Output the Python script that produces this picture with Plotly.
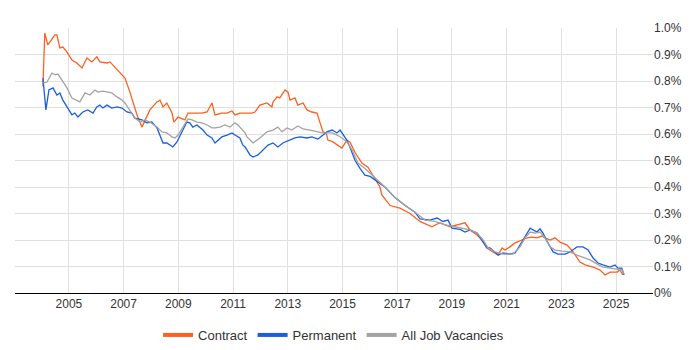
import plotly.graph_objects as go

# Decimal-year dates and values (% of vacancies)
contract_dates = [2004.05, 2004.12, 2004.23, 2004.49, 2004.56, 2004.67, 2004.78, 2004.93, 2005.11, 2005.29,
                  2005.48, 2005.66, 2005.84, 2006.02, 2006.13, 2006.39, 2006.50, 2006.68, 2006.86, 2007.05,
                  2007.23, 2007.34, 2007.49, 2007.67, 2007.96, 2008.22, 2008.33, 2008.44, 2008.58, 2008.77,
                  2008.84, 2008.99, 2009.24, 2009.35, 2009.61, 2009.86, 2010.05, 2010.16, 2010.23, 2010.34,
                  2010.59, 2010.78, 2010.96, 2011.07, 2011.25, 2011.44, 2011.69, 2011.80, 2011.98, 2012.24,
                  2012.42, 2012.46, 2012.61, 2012.71, 2012.90, 2013.01, 2013.08, 2013.26, 2013.37, 2013.56,
                  2013.70, 2013.88, 2014.07, 2014.18, 2014.29, 2014.40, 2014.47, 2014.65, 2014.84, 2014.98,
                  2015.16, 2015.27, 2015.46, 2015.71, 2015.93, 2016.19, 2016.37, 2016.44, 2016.74, 2017.10,
                  2017.47, 2017.83, 2018.27, 2018.56, 2018.93, 2019.30, 2019.48, 2019.66, 2019.92, 2020.10,
                  2020.28, 2020.50, 2020.69, 2020.83, 2020.94, 2021.12, 2021.31, 2021.56, 2021.75, 2021.93,
                  2022.11, 2022.29, 2022.40, 2022.59, 2022.77, 2022.95, 2023.21, 2023.43, 2023.68, 2023.87,
                  2024.16, 2024.41, 2024.60, 2024.78, 2025.04, 2025.14, 2025.25]
contract_vals = [0.78, 0.981, 0.936, 0.974, 0.974, 0.925, 0.928, 0.909, 0.879, 0.868,
                 0.849, 0.887, 0.872, 0.891, 0.872, 0.868, 0.872, 0.853, 0.834, 0.811,
                 0.758, 0.721, 0.672, 0.626, 0.691, 0.721, 0.728, 0.702, 0.717, 0.679,
                 0.645, 0.664, 0.653, 0.679, 0.679, 0.679, 0.683, 0.702, 0.717, 0.672,
                 0.679, 0.679, 0.687, 0.672, 0.679, 0.679, 0.679, 0.683, 0.709, 0.717,
                 0.702, 0.721, 0.740, 0.736, 0.766, 0.758, 0.728, 0.736, 0.709, 0.717,
                 0.691, 0.683, 0.679, 0.642, 0.608, 0.604, 0.577, 0.570, 0.558, 0.547,
                 0.577, 0.570, 0.53, 0.49, 0.475, 0.43, 0.40, 0.37, 0.33, 0.32,
                 0.30, 0.27, 0.25, 0.265, 0.25, 0.26, 0.265, 0.238, 0.219, 0.200,
                 0.170, 0.155, 0.143, 0.170, 0.162, 0.174, 0.189, 0.200, 0.208, 0.211,
                 0.208, 0.215, 0.208, 0.200, 0.208, 0.192, 0.181, 0.155, 0.117, 0.106,
                 0.098, 0.087, 0.068, 0.079, 0.079, 0.087, 0.068]

permanent_dates = [2004.05, 2004.16, 2004.27, 2004.42, 2004.56, 2004.67, 2004.78, 2004.93, 2005.11, 2005.22,
                   2005.33, 2005.51, 2005.69, 2005.88, 2006.02, 2006.13, 2006.24, 2006.39, 2006.57, 2006.76,
                   2006.94, 2007.12, 2007.30, 2007.41, 2007.67, 2007.85, 2008.03, 2008.22, 2008.33, 2008.44,
                   2008.58, 2008.69, 2008.80, 2008.95, 2009.13, 2009.31, 2009.42, 2009.53, 2009.68, 2009.79,
                   2009.90, 2010.05, 2010.23, 2010.34, 2010.45, 2010.59, 2010.78, 2010.96, 2011.07, 2011.25,
                   2011.36, 2011.44, 2011.62, 2011.73, 2011.91, 2012.09, 2012.28, 2012.46, 2012.64, 2012.82,
                   2013.08, 2013.26, 2013.45, 2013.70, 2013.88, 2014.10, 2014.29, 2014.43, 2014.62, 2014.80,
                   2014.91, 2015.02, 2015.16, 2015.27, 2015.46, 2015.64, 2015.82, 2016.01, 2016.30, 2016.55,
                   2016.92, 2017.29, 2017.65, 2017.83, 2018.20, 2018.46, 2018.67, 2018.86, 2019.00, 2019.30,
                   2019.48, 2019.66, 2019.92, 2020.14, 2020.28, 2020.39, 2020.58, 2020.69, 2020.87, 2021.12,
                   2021.31, 2021.49, 2021.67, 2021.86, 2021.97, 2022.11, 2022.22, 2022.33, 2022.51, 2022.70,
                   2022.88, 2023.14, 2023.32, 2023.57, 2023.79, 2023.98, 2024.16, 2024.34, 2024.52, 2024.78,
                   2024.96, 2025.07, 2025.21, 2025.29]
permanent_vals = [0.811, 0.691, 0.766, 0.774, 0.747, 0.755, 0.728, 0.702, 0.672, 0.679,
                  0.664, 0.683, 0.691, 0.679, 0.702, 0.709, 0.698, 0.709, 0.698, 0.702,
                  0.698, 0.683, 0.679, 0.660, 0.653, 0.642, 0.645, 0.623, 0.596, 0.566,
                  0.566, 0.558, 0.551, 0.570, 0.608, 0.645, 0.642, 0.626, 0.634, 0.626,
                  0.615, 0.596, 0.585, 0.566, 0.577, 0.589, 0.596, 0.604, 0.596, 0.585,
                  0.558, 0.551, 0.521, 0.513, 0.521, 0.540, 0.558, 0.566, 0.551, 0.566,
                  0.577, 0.585, 0.589, 0.585, 0.589, 0.581, 0.596, 0.608, 0.615, 0.604,
                  0.615, 0.596, 0.577, 0.551, 0.50, 0.47, 0.445, 0.44, 0.42, 0.40,
                  0.36, 0.33, 0.305, 0.28, 0.275, 0.283, 0.27, 0.275, 0.245, 0.24,
                  0.23, 0.238, 0.226, 0.192, 0.170, 0.170, 0.155, 0.143, 0.151, 0.147,
                  0.151, 0.181, 0.211, 0.245, 0.238, 0.230, 0.242, 0.226, 0.189, 0.155,
                  0.147, 0.147, 0.155, 0.174, 0.174, 0.162, 0.132, 0.113, 0.106, 0.098,
                  0.106, 0.094, 0.094, 0.068]

all_dates = [2004.05, 2004.20, 2004.38, 2004.49, 2004.60, 2004.74, 2004.93, 2005.11, 2005.29, 2005.40,
             2005.59, 2005.77, 2005.95, 2006.06, 2006.24, 2006.39, 2006.57, 2006.76, 2006.94, 2007.05,
             2007.16, 2007.34, 2007.41, 2007.60, 2007.78, 2007.96, 2008.22, 2008.40, 2008.58, 2008.77,
             2008.88, 2008.99, 2009.17, 2009.35, 2009.50, 2009.68, 2009.86, 2010.05, 2010.23, 2010.34,
             2010.52, 2010.70, 2010.89, 2011.07, 2011.18, 2011.33, 2011.44, 2011.51, 2011.73, 2011.98,
             2012.24, 2012.46, 2012.64, 2012.79, 2012.97, 2013.15, 2013.37, 2013.56, 2013.81, 2013.99,
             2014.25, 2014.43, 2014.62, 2014.80, 2014.98, 2015.16, 2015.35, 2015.57, 2015.82, 2016.19,
             2016.55, 2016.92, 2017.29, 2017.65, 2018.02, 2018.38, 2018.75, 2019.11, 2019.48, 2019.66,
             2019.92, 2020.14, 2020.32, 2020.58, 2020.87, 2021.23, 2021.49, 2021.67, 2021.86, 2022.04,
             2022.22, 2022.40, 2022.59, 2022.77, 2023.03, 2023.32, 2023.57, 2023.79, 2024.05, 2024.31,
             2024.52, 2024.78, 2025.04, 2025.21, 2025.29]
all_vals = [0.792, 0.796, 0.830, 0.823, 0.826, 0.804, 0.774, 0.736, 0.728, 0.721,
            0.755, 0.747, 0.766, 0.758, 0.762, 0.758, 0.755, 0.740, 0.728, 0.717,
            0.698, 0.672, 0.660, 0.645, 0.653, 0.645, 0.626, 0.608, 0.604, 0.589,
            0.585, 0.596, 0.626, 0.657, 0.653, 0.645, 0.642, 0.634, 0.623, 0.623,
            0.626, 0.634, 0.626, 0.642, 0.634, 0.615, 0.604, 0.589, 0.566, 0.585,
            0.608, 0.615, 0.626, 0.608, 0.623, 0.615, 0.630, 0.619, 0.615, 0.611,
            0.604, 0.604, 0.604, 0.596, 0.585, 0.570, 0.54, 0.49, 0.47, 0.435,
            0.40, 0.36, 0.33, 0.305, 0.275, 0.27, 0.257, 0.25, 0.24, 0.238,
            0.226, 0.200, 0.170, 0.155, 0.147, 0.147, 0.174, 0.208, 0.230, 0.226,
            0.230, 0.208, 0.174, 0.162, 0.158, 0.155, 0.143, 0.136, 0.125, 0.109,
            0.098, 0.094, 0.091, 0.087, 0.072]

series_names = ["Contract", "Permanent", "All Job Vacancies"]
series_colors = ["#ff5f1f", "#1a5fdc", "#a3a3a3"]

x_tick_vals = [2005, 2007, 2009, 2011, 2013, 2015, 2017, 2019, 2021, 2023, 2025]
x_tick_text = [str(v) for v in x_tick_vals]
y_tick_vals = [0, 0.1, 0.2, 0.3, 0.4, 0.5, 0.6, 0.7, 0.8, 0.9, 1.0]
y_tick_text = ["0%", "0.1%", "0.2%", "0.3%", "0.4%", "0.5%", "0.6%", "0.7%", "0.8%", "0.9%", "1.0%"]

fig = go.Figure()
data = [(contract_dates, contract_vals), (permanent_dates, permanent_vals), (all_dates, all_vals)]
for (xs, ys), name, color in zip(data, series_names, series_colors):
    fig.add_trace(go.Scatter(x=xs, y=ys, mode="lines", name=name, legendgroup=name,
                             showlegend=False, line=dict(color=color, width=1.3)))
# legend entries with thicker swatches
for name, color in zip(series_names, series_colors):
    fig.add_trace(go.Scatter(x=[None], y=[None], mode="lines", name=name, legendgroup=name,
                             showlegend=True, line=dict(color=color, width=4)))

# page body has an 8px margin, so the figure is sized/positioned to compensate
fig.update_layout(
    width=684, height=334,
    margin=dict(l=7, r=39, t=20, b=49, autoexpand=False),
    paper_bgcolor="white", plot_bgcolor="white",
    font=dict(family="Liberation Sans, Arial, sans-serif", size=12, color="#333333"),
    showlegend=True,
    legend=dict(orientation="h", x=0.476, xanchor="center", xref="container",
                y=0.021, yanchor="middle", yref="container",
                font=dict(size=13, color="#333333"), itemwidth=30, traceorder="normal"),
    xaxis=dict(range=[2003.03, 2026.35], tickvals=x_tick_vals, ticktext=x_tick_text,
               showgrid=True, gridcolor="#e0e0e0", gridwidth=1, automargin=False,
               showline=True, linecolor="#000000", linewidth=1, ticks="", zeroline=False,
               tickfont=dict(size=12, color="#333333")),
    yaxis=dict(range=[0, 1.0], side="right", tickvals=y_tick_vals, ticktext=y_tick_text,
               showgrid=True, gridcolor="#e0e0e0", gridwidth=1, zeroline=False, automargin=False,
               showline=False, ticks="", tickfont=dict(size=12, color="#333333")),
)

fig.write_html("out.html")
